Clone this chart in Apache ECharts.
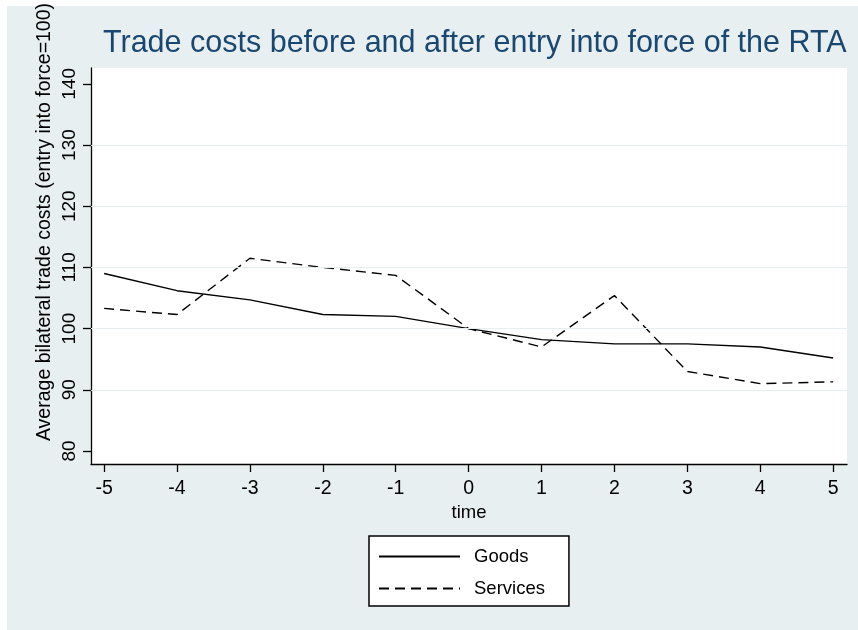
<!DOCTYPE html>
<html>
<head>
<meta charset="utf-8">
<script src="https://cdn.jsdelivr.net/npm/echarts@6/dist/echarts.min.js"></script>
<style>html,body{margin:0;padding:0;background:#fff}#c{width:858px;height:630px}</style>
</head>
<body>
<div id="c"></div>
<script>
var timeValues = [-5, -4, -3, -2, -1, 0, 1, 2, 3, 4, 5];
var goods = [109.0, 106.2, 104.7, 102.3, 102.0, 100.0, 98.2, 97.5, 97.5, 97.0, 95.2];
var services = [103.3, 102.3, 111.5, 110.0, 108.7, 100.0, 97.0, 105.4, 93.0, 91.0, 91.3];
var yTicks = [80, 90, 100, 110, 120, 130, 140];
var gridValues = [90, 100, 110, 120, 130];
var titleText = 'Trade costs before and after entry into force of the RTA';
var yTitle = 'Average bilateral trade costs (entry into force=100)';
var xTitle = 'time';

var font = 'Liberation Sans, Arial, sans-serif';
var chart = echarts.init(document.getElementById('c'), null, {renderer: 'canvas'});
function pairs(vals) { return timeValues.map(function (t, i) { return [t, vals[i]]; }); }

chart.setOption({
  backgroundColor: '#ffffff',
  animation: false,
  graphic: [
    {type: 'rect', z: -10, shape: {x: 7, y: 6, width: 851, height: 624}, style: {fill: '#e8eff1'}, silent: true},
    {type: 'text', x: 45, y: 222, rotation: Math.PI / 2, style: {text: yTitle, font: '19.5px ' + font, fill: '#000', align: 'center', verticalAlign: 'middle'}}
  ],
  title: {
    text: titleText, left: 98, top: 23,
    textStyle: {fontFamily: font, fontSize: 30.5, fontWeight: 'normal', color: '#1a476f'}
  },
  grid: {left: 91, right: 11, top: 68, bottom: 166, show: true, backgroundColor: '#ffffff', borderWidth: 0},
  legend: {
    orient: 'vertical', left: 369, top: 536,
    backgroundColor: '#ffffff', borderColor: '#000', borderWidth: 1.5,
    padding: [11, 24, 8, 9], itemGap: 13, itemWidth: 81, itemHeight: 18,
    itemStyle: {opacity: 0},
    textStyle: {fontFamily: font, fontSize: 18.5, color: '#000', padding: [0, 0, 0, 9]},
    data: ['Goods', 'Services']
  },
  xAxis: {
    type: 'value', min: -5.18, max: 5.19,
    name: xTitle, nameLocation: 'middle', nameGap: 38,
    nameTextStyle: {fontFamily: font, fontSize: 18.5, color: '#000'},
    axisLine: {show: true, onZero: false, lineStyle: {color: '#000', width: 1.3}},
    axisTick: {show: true, inside: false, length: 8, customValues: timeValues, lineStyle: {color: '#000', width: 1.3}},
    axisLabel: {customValues: timeValues, fontFamily: font, fontSize: 19.5, color: '#000', margin: 15},
    splitLine: {show: false}
  },
  yAxis: {
    type: 'value', min: 77.87, max: 142.6,
    axisLine: {show: true, onZero: false, lineStyle: {color: '#000', width: 1.3}},
    axisTick: {show: true, inside: false, length: 8, customValues: yTicks, lineStyle: {color: '#000', width: 1.3}},
    axisLabel: {customValues: yTicks, rotate: 90, fontFamily: font, fontSize: 19, color: '#000', margin: 12},
    splitLine: {show: false}
  },
  series: [
    {
      name: 'Goods', type: 'line', data: pairs(goods), symbol: 'none',
      lineStyle: {color: '#000', width: 1.4, type: 'solid'}, itemStyle: {color: '#000'},
      markLine: {
        silent: true, symbol: 'none', label: {show: false},
        lineStyle: {color: '#e6eef0', width: 1.2, type: 'solid'},
        data: gridValues.map(function (v) { return {yAxis: v}; })
      },
      z: 3
    },
    {
      name: 'Services', type: 'line', data: pairs(services), symbol: 'none',
      lineStyle: {color: '#000', width: 1.4, type: [10, 6]}, itemStyle: {color: '#000'},
      z: 4
    }
  ]
});
</script>
</body>
</html>
